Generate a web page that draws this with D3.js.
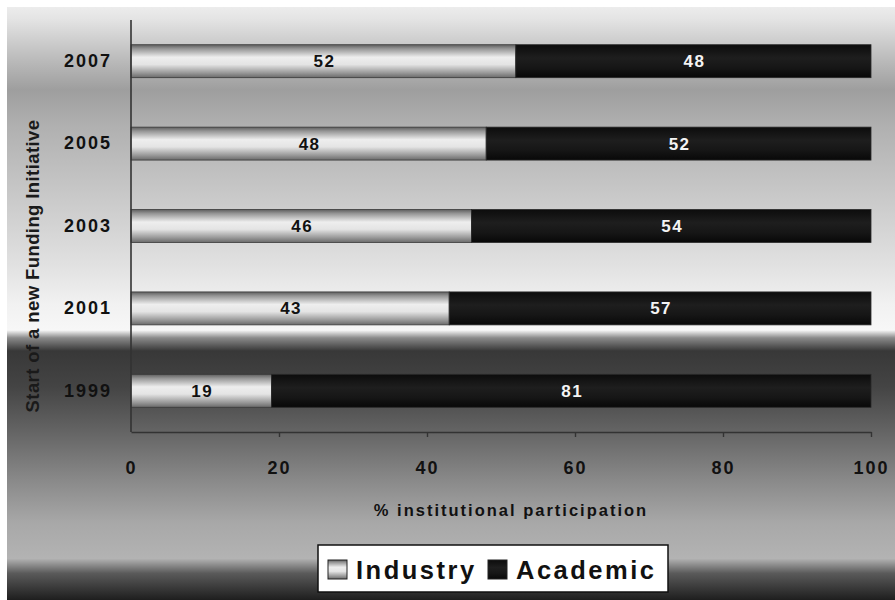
<!DOCTYPE html>
<html>
<head>
<meta charset="utf-8">
<script src="https://cdn.jsdelivr.net/npm/d3@7"></script>
<style>
  body { margin: 0; background: #fff; }
  svg { display: block; font-family: "Liberation Sans", Arial, sans-serif; font-weight: bold; }
</style>
</head>
<body>
<svg id="chart"></svg>
<script>
var width = 895;
var height = 600;

// data
var years = ["2007", "2005", "2003", "2001", "1999"];
var industry = [52, 48, 46, 43, 19];
var academic = [48, 52, 54, 57, 81];
var xTicks = [0, 20, 40, 60, 80, 100];
var seriesNames = ["Industry", "Academic"];

var margin = { top: 20, left: 131, right: 24, bottom: 168 };

var svg = d3.select("#chart").attr("width", width).attr("height", height);
var defs = svg.append("defs");

// page background: vertical grey gradient with a dark band
var bg = defs.append("linearGradient").attr("id", "bg")
  .attr("x1", 0).attr("y1", 0).attr("x2", 0).attr("y2", 1);
[
  [0.0, "#ececec"], [0.02, "#e4e4e4"], [0.08, "#c0c0c0"], [0.14, "#9e9e9e"],
  [0.2, "#b0b0b0"], [0.33, "#cbcbcb"], [0.44, "#e2e2e2"], [0.5, "#f1f1f1"],
  [0.545, "#f7f7f7"], [0.558, "#8a8a8a"], [0.58, "#383838"], [0.64, "#444444"],
  [0.72, "#666666"], [0.8, "#8a8a8a"], [0.87, "#a8a8a8"], [0.93, "#b3b3b3"],
  [0.955, "#5a5a5a"], [1.0, "#1e1e1e"]
].forEach(function(s) {
  bg.append("stop").attr("offset", s[0]).attr("stop-color", s[1]);
});

var indGrad = defs.append("linearGradient").attr("id", "ind")
  .attr("x1", 0).attr("y1", 0).attr("x2", 0).attr("y2", 1);
[[0, "#5e5e5e"], [0.12, "#959595"], [0.38, "#eeeeee"], [0.6, "#e4e4e4"], [0.85, "#9a9a9a"], [1, "#6a6a6a"]]
  .forEach(function(s) { indGrad.append("stop").attr("offset", s[0]).attr("stop-color", s[1]); });

var acaGrad = defs.append("linearGradient").attr("id", "aca")
  .attr("x1", 0).attr("y1", 0).attr("x2", 0).attr("y2", 1);
[[0, "#0c0c0c"], [0.4, "#1e1e1e"], [0.7, "#161616"], [1, "#080808"]]
  .forEach(function(s) { acaGrad.append("stop").attr("offset", s[0]).attr("stop-color", s[1]); });

svg.append("rect").attr("x", 7).attr("y", 7).attr("width", width - 7).attr("height", height - 7)
  .attr("fill", "url(#bg)");

var x = d3.scaleLinear().domain([0, 100]).range([margin.left, width - margin.right]);
var y = d3.scaleBand().domain(years).range([margin.top, height - margin.bottom]).paddingInner(0.6).paddingOuter(0.3);

var rows = years.map(function(yr, i) {
  return { year: yr, ind: industry[i], aca: academic[i] };
});

var g = svg.append("g");

var row = g.selectAll("g.row").data(rows).enter().append("g").attr("class", "row");

row.append("rect")
  .attr("x", x(0))
  .attr("y", function(d) { return y(d.year); })
  .attr("width", function(d) { return x(d.ind) - x(0); })
  .attr("height", y.bandwidth())
  .attr("fill", "url(#ind)")
  .attr("stroke", "#3a3a3a").attr("stroke-width", 0.8);

row.append("rect")
  .attr("x", function(d) { return x(d.ind); })
  .attr("y", function(d) { return y(d.year); })
  .attr("width", function(d) { return x(d.ind + d.aca) - x(d.ind); })
  .attr("height", y.bandwidth())
  .attr("fill", "url(#aca)")
  .attr("stroke", "#2a2a2a").attr("stroke-width", 0.8);

row.append("text")
  .attr("x", function(d) { return (x(0) + x(d.ind)) / 2 + 1; })
  .attr("y", function(d) { return y(d.year) + y.bandwidth() / 2 + 6; })
  .attr("text-anchor", "middle")
  .attr("font-size", 17).attr("letter-spacing", 1.5)
  .attr("fill", "#111")
  .text(function(d) { return d.ind; });

row.append("text")
  .attr("x", function(d) { return (x(d.ind) + x(100)) / 2 + 1; })
  .attr("y", function(d) { return y(d.year) + y.bandwidth() / 2 + 6; })
  .attr("text-anchor", "middle")
  .attr("font-size", 17).attr("letter-spacing", 1.5)
  .attr("fill", "#f4f4f4")
  .text(function(d) { return d.aca; });

// y axis
var yAxis = g.append("g").attr("transform", "translate(" + x(0) + ",0)")
  .call(d3.axisLeft(y).tickSize(0).tickPadding(8));
yAxis.select(".domain").attr("d", "M0," + margin.top + "V" + (height - margin.bottom))
  .attr("stroke", "#333").attr("stroke-width", 1.6);
yAxis.selectAll("text").attr("font-size", 18).attr("letter-spacing", 2)
  .attr("font-family", "Liberation Sans, Arial, sans-serif").attr("font-weight", "bold")
  .attr("fill", "#111").attr("dx", "-11");

// x axis
var xAxis = g.append("g").attr("transform", "translate(0," + (height - margin.bottom) + ")")
  .call(d3.axisBottom(x).tickValues(xTicks).tickSize(5).tickSizeOuter(0).tickPadding(24));
xAxis.select(".domain").attr("stroke", "#333").attr("stroke-width", 1.6);
xAxis.selectAll(".tick line").attr("stroke", "#333").attr("stroke-width", 1.4)
  .filter(function(d) { return d === 0; }).remove();
xAxis.selectAll("text").attr("font-size", 18).attr("letter-spacing", 2)
  .attr("font-family", "Liberation Sans, Arial, sans-serif").attr("font-weight", "bold")
  .attr("fill", "#111");

// axis titles
svg.append("text")
  .attr("x", (x(0) + x(100)) / 2 + 10).attr("y", 516)
  .attr("text-anchor", "middle").attr("font-size", 16.5).attr("letter-spacing", 2)
  .attr("fill", "#111")
  .text("% institutional participation");

svg.append("text")
  .attr("transform", "translate(39,266) rotate(-90)")
  .attr("text-anchor", "middle").attr("font-size", 18.5).attr("letter-spacing", 0.4)
  .attr("fill", "#1a1a1a")
  .text("Start of a new Funding Initiative");

// legend
var legend = svg.append("g").attr("transform", "translate(318,545)");
legend.append("rect").attr("width", 350).attr("height", 47)
  .attr("fill", "#fff").attr("stroke", "#111").attr("stroke-width", 1.5);

var legendX = [10, 170];
seriesNames.forEach(function(name, i) {
  var item = legend.append("g").attr("transform", "translate(" + legendX[i] + ",15)");
  item.append("rect").attr("width", 19).attr("height", 19)
    .attr("fill", i === 0 ? "url(#ind)" : "url(#aca)")
    .attr("stroke", "#222").attr("stroke-width", 1);
  item.append("text").attr("x", 28).attr("y", 19)
    .attr("font-size", 25.5).attr("letter-spacing", 2.5)
    .attr("fill", "#111")
    .text(name);
});
</script>
</body>
</html>
